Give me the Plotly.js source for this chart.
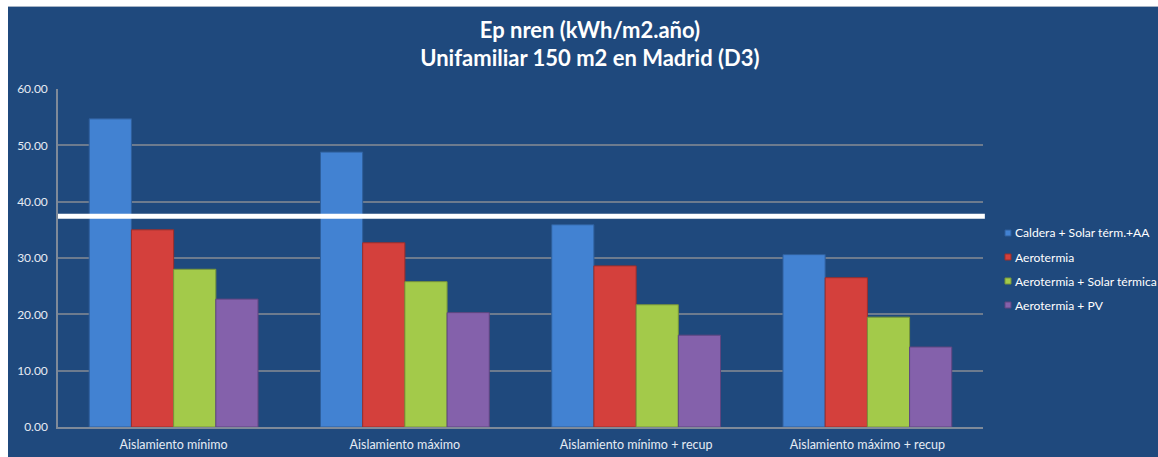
<!DOCTYPE html>
<html>
<head>
<meta charset="utf-8">
<script src="https://cdn.plot.ly/plotly-3.0.1.min.js"></script>
<style>
  html, body { margin: 0; padding: 0; background: #ffffff; }
  #frame { position: absolute; left: 8px; top: 6px; width: 1150px; height: 451px; border-top: 1px solid #a6b4c6; }
  #chart { width: 1150px; height: 451px; }
</style>
</head>
<body>
<div id="frame"><div id="chart"></div></div>
<script>
// Primary energy (non-renewable) per system, single-family house 150 m2 in Madrid (D3)
const categories = [
  'Aislamiento mínimo',
  'Aislamiento máximo',
  'Aislamiento mínimo + recup',
  'Aislamiento máximo + recup'
];
const seriesNames = [
  'Caldera + Solar térm.+AA',
  'Aerotermia',
  'Aerotermia + Solar térmica',
  'Aerotermia + PV'
];
const calderaSolar = [54.7, 48.8, 35.9, 30.6];
const aerotermia = [35.0, 32.7, 28.6, 26.5];
const aerotermiaSolar = [28.0, 25.8, 21.7, 19.5];
const aerotermiaPV = [22.7, 20.3, 16.3, 14.2];
const limitValue = 37.4;
const yTicks = [0, 10, 20, 30, 40, 50, 60];

const seriesValues = [calderaSolar, aerotermia, aerotermiaSolar, aerotermiaPV];
const fills = ['#4282d2', '#d4403c', '#a3ca4a', '#8461ab'];
const edges = ['#2f5f9c', '#9c2e2b', '#77953a', '#5f4680'];

const traces = seriesValues.map((vals, i) => ({
  type: 'bar',
  name: seriesNames[i],
  x: categories,
  y: vals,
  marker: { color: fills[i], line: { color: edges[i], width: 1 } },
  hoverinfo: 'x+y+name',
  showlegend: false
}));

const font = 'Lato, "Open Sans", "DejaVu Sans", sans-serif';

// Plot box in pixels, used to place the key to the right of the axes
const W = 1150, H = 451;
const M = { l: 50, r: 175, t: 82, b: 31 };
const plotW = W - M.l - M.r;
const plotH = H - M.t - M.b;
const px = (x) => (x - M.l) / plotW;          // container px -> paper x
const py = (y) => (H - M.b - y) / plotH;       // container px -> paper y

// Key: small swatch + label per series
const keyX = 997, keyTop = 226, keyStep = 24, sw = 6;
const keyShapes = [];
const keyNotes = [];
seriesNames.forEach((name, i) => {
  const cy = keyTop + i * keyStep;
  keyShapes.push({
    type: 'rect', xref: 'paper', yref: 'paper',
    x0: px(keyX), x1: px(keyX + sw),
    y0: py(cy + sw / 2), y1: py(cy - sw / 2),
    fillcolor: fills[i], line: { color: edges[i], width: 1 }, layer: 'above'
  });
  keyNotes.push({
    xref: 'paper', yref: 'paper',
    x: px(keyX + sw + 2), y: py(cy),
    xanchor: 'left', yanchor: 'middle',
    text: name, showarrow: false,
    font: { family: font, size: 12.1, color: '#ffffff' }
  });
});

const layout = {
  width: W,
  height: H,
  paper_bgcolor: '#1f497d',
  plot_bgcolor: '#1f497d',
  margin: M,
  barmode: 'group',
  bargap: 0.27,
  bargroupgap: 0,
  showlegend: false,
  title: {
    text: '<b>Ep nren (kWh/m2.año)<br>Unifamiliar 150 m2 en Madrid (D3)</b>',
    font: { family: font, size: 22, color: '#ffffff' },
    xref: 'container',
    x: 0.506,
    xanchor: 'center',
    yref: 'container',
    y: 0.932,
    yanchor: 'top'
  },
  xaxis: {
    showgrid: false,
    showline: true,
    linecolor: '#7f8a99',
    linewidth: 1.5,
    ticks: '',
    ticklabelstandoff: 5,
    tickfont: { family: font, size: 12.5, color: '#e6ecf4' },
    fixedrange: true
  },
  yaxis: {
    range: [0, 60],
    tickvals: yTicks,
    tickformat: '.2f',
    showgrid: true,
    gridcolor: '#6d7b8e',
    gridwidth: 1.5,
    zeroline: false,
    showline: true,
    linecolor: '#7f8a99',
    linewidth: 1.5,
    ticks: '',
    ticklabelstandoff: 6,
    tickfont: { family: font, size: 12, color: '#e6ecf4' },
    fixedrange: true
  },
  annotations: keyNotes,
  shapes: [{
    type: 'line',
    xref: 'paper',
    x0: 0,
    x1: 1.002,
    yref: 'y',
    y0: limitValue,
    y1: limitValue,
    layer: 'above',
    line: { color: '#ffffff', width: 5 }
  }].concat(keyShapes)
};

Plotly.newPlot('chart', traces, layout, { displayModeBar: false });
</script>
</body>
</html>
